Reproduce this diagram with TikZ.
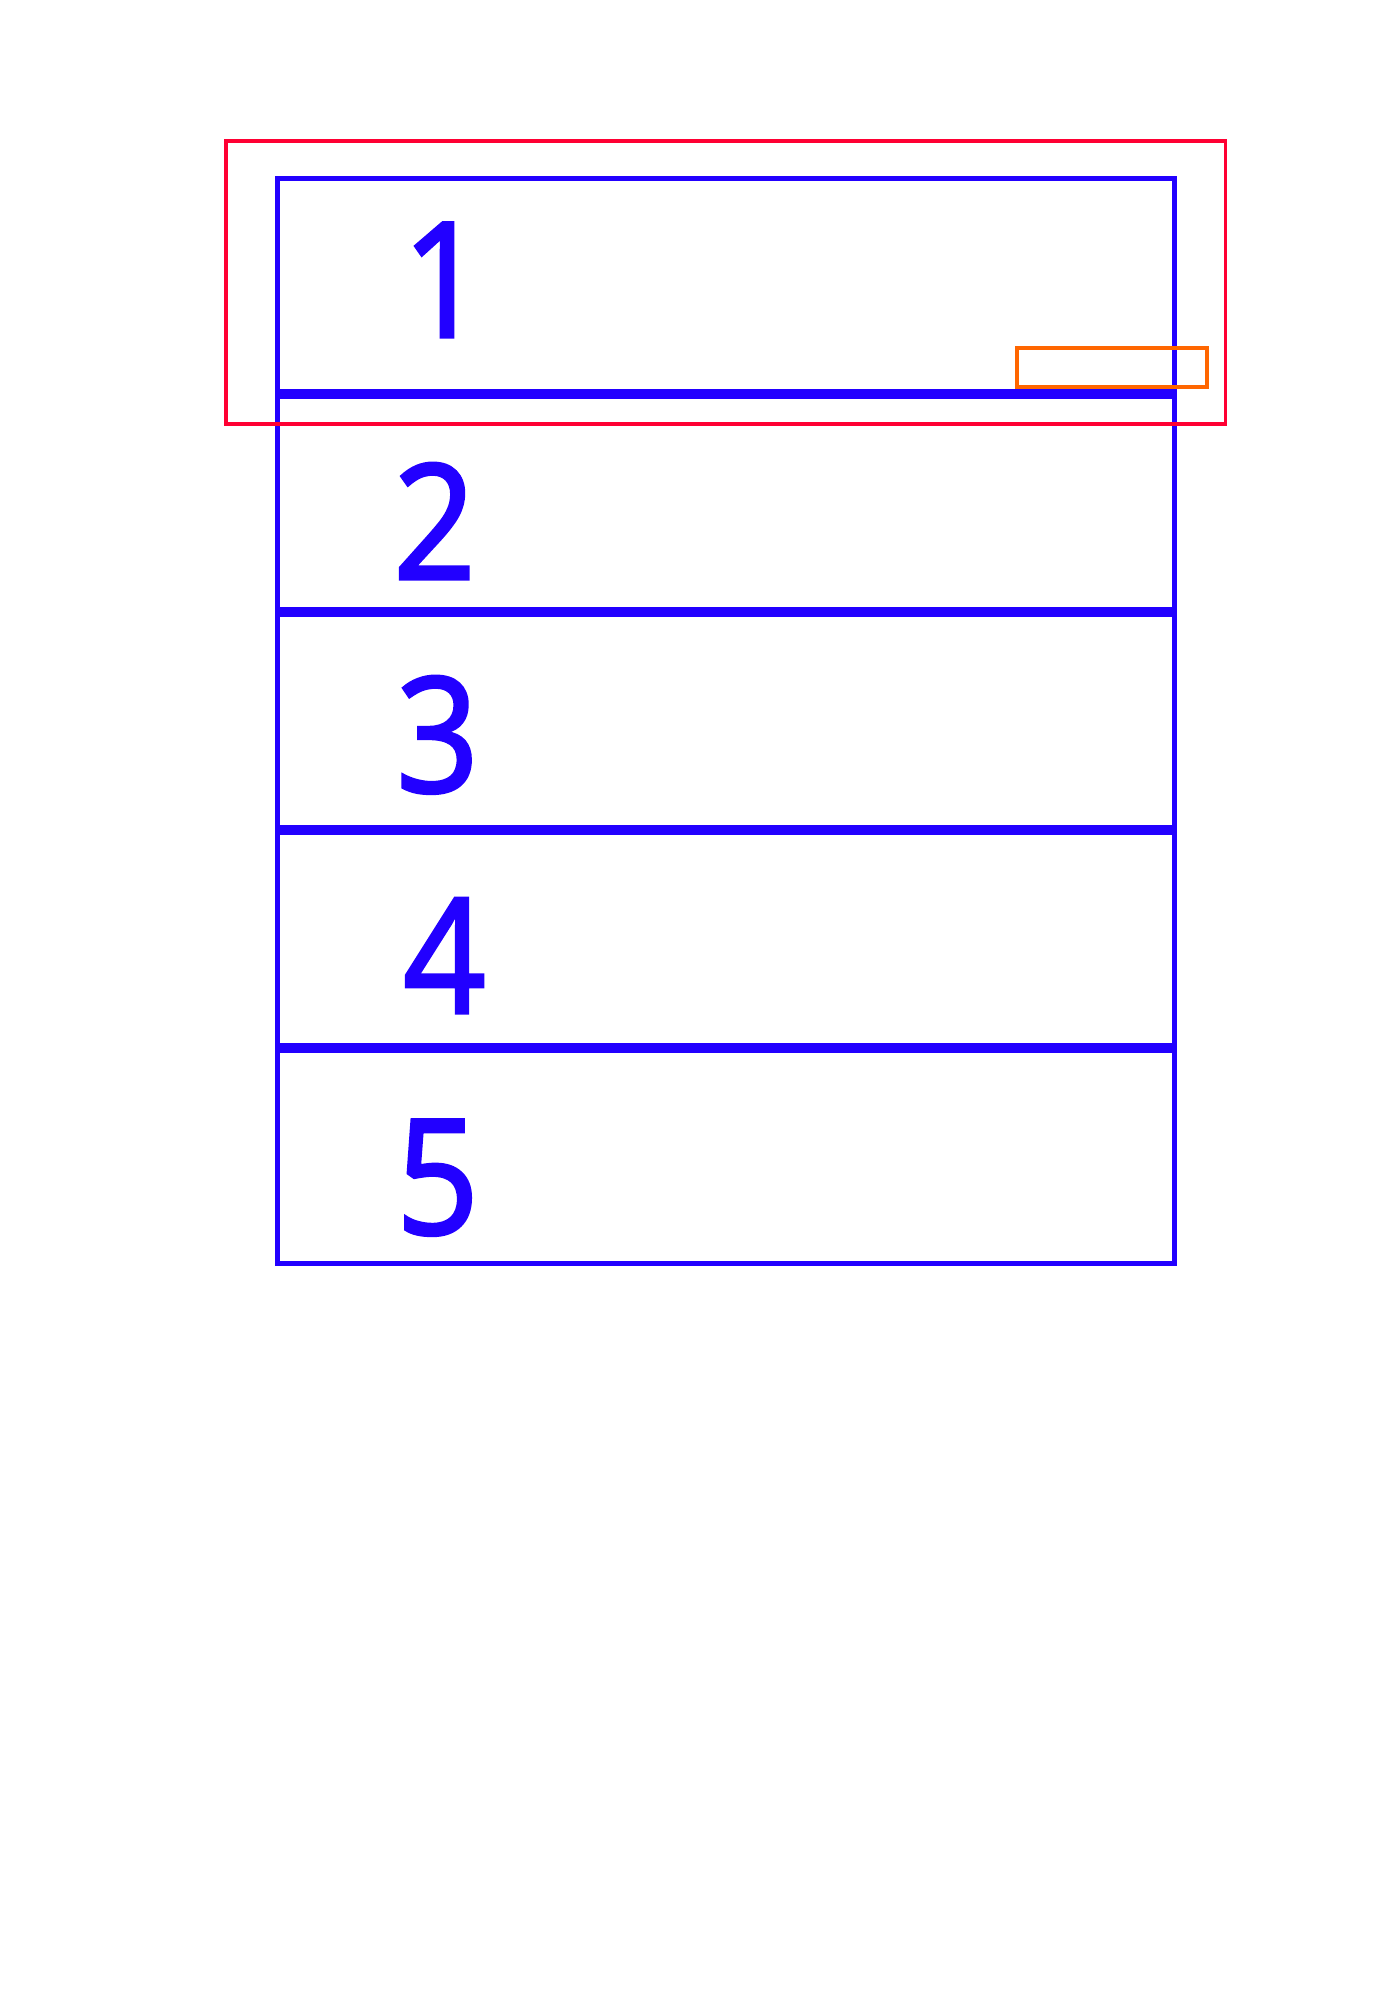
\documentclass[tikz,border=0pt]{standalone}
\usepackage{fontspec}
\setmainfont{Open Sans}
\newfontfamily\rowfont{Open Sans}[FakeBold=2,FakeStretch=0.9]
\definecolor{rowblue}{RGB}{34,0,255}
\definecolor{framered}{RGB}{255,0,51}
\definecolor{tagorange}{RGB}{255,102,0}
\tikzset{
  rowbox/.style={rowblue,line width=2.5pt},
  rowlabel/.style={anchor=base west,inner sep=0pt,text=rowblue,font=\rowfont\fontsize{80}{80}\selectfont}
}

\begin{document}
\begin{tikzpicture}[x=0.5pt,y=-0.5pt]
    \useasboundingbox (0,0) rectangle (1400,2000);
    % rows
    \foreach \i in {0,...,4}
        \draw[rowbox] (277.5,178.7+217.9*\i) rectangle (1174,391.5+217.9*\i);
    % numbers
    \node[rowlabel] (n1) at (402,337) {1};
    \node[rowlabel] (n2) at (393,579) {2};
    \node[rowlabel] (n3) at (396,792) {3};
    \node[rowlabel] (n4) at (403,1013) {4};
    \node[rowlabel] (n5) at (396,1234) {5};
    % frame round the first row
    \draw[framered,line width=1.8pt] (226,141) rectangle (1225.3,424);
    % small tag
    \draw[tagorange,line width=2pt] (1017.3,348.3) rectangle (1207.3,386.7);
\end{tikzpicture}
\end{document}
